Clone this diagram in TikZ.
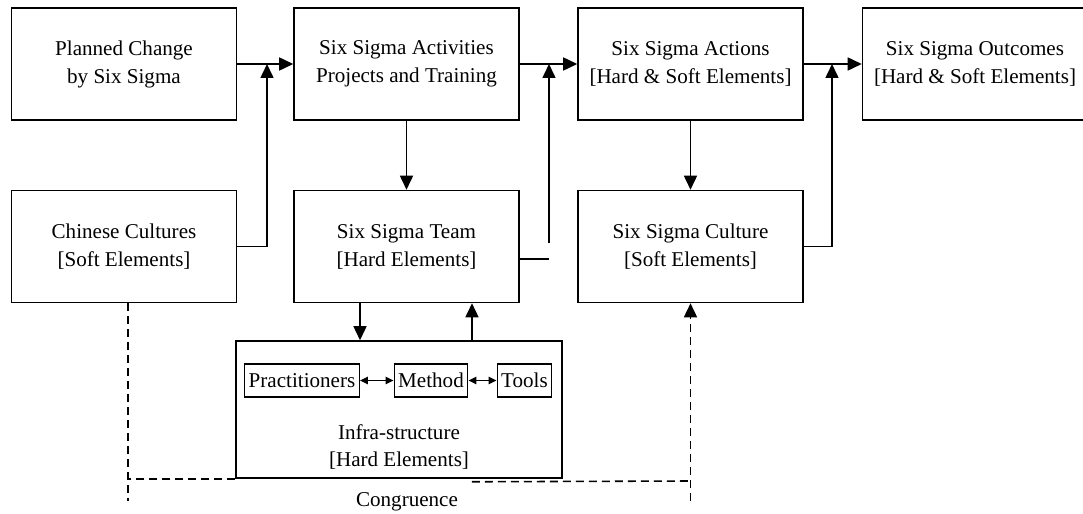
\documentclass[tikz,border=0pt]{standalone}
\usepackage{fontspec}
\setmainfont{Liberation Serif}
\usetikzlibrary{arrows.meta}
\begin{document}
\begin{tikzpicture}[x=0.02cm,y=-0.02cm,
    font=\fontsize{12}{15.9}\selectfont,
    box/.style={draw,line width=0.9pt,minimum width=4.5cm,minimum height=2.24cm,inner sep=0pt,align=center},
    smallbox/.style={draw,line width=0.8pt,inner xsep=0.08cm,inner ysep=0pt,minimum height=0.66cm},
    arr/.style={line width=0.9pt,-{Triangle[length=0.28cm,width=0.26cm]}},
    dbl/.style={line width=0.9pt,{Triangle[length=0.16cm,width=0.15cm]}-{Triangle[length=0.16cm,width=0.15cm]}},
    dsh/.style={line width=0.9pt,dash pattern=on 0.16cm off 0.1cm}]
\useasboundingbox (0,0) rectangle (1083,514);
% top row
\node[box] (plan) at (124,64) {Planned Change\\by Six Sigma};
\node[box] (act) at (406.5,64) {Six Sigma Activities\\Projects and Training};
\node[box] (actn) at (690.5,64) {Six Sigma Actions\\{[Hard \& Soft Elements]}};
\node[box] (outc) at (975,64) {Six Sigma Outcomes\\{[Hard \& Soft Elements]}};
% second row
\node[box] (chin) at (124,246.5) {Chinese Cultures\\{[Soft Elements]}};
\node[box] (team) at (406.5,246.5) {Six Sigma Team\\{[Hard Elements]}};
\node[box] (cult) at (690.5,246.5) {Six Sigma Culture\\{[Soft Elements]}};
% infra-structure
\node[draw,line width=0.9pt,minimum width=6.52cm,minimum height=2.74cm,inner sep=0pt] (infra) at (399,409.5) {};
\node[align=center] (infralbl) at (399,447) {Infra-structure\\{[Hard Elements]}};
\node[smallbox] (prac) at (302,380.5) {Practitioners};
\node[smallbox] (meth) at (431,380.5) {Method};
\node[smallbox] (tools) at (524.5,380.5) {Tools};
\draw[dbl] (prac) -- (meth);
\draw[dbl] (meth) -- (tools);
% junctions
\coordinate (j1) at (267,64);
\coordinate (j2) at (549,64);
\coordinate (j3) at (832,64);
\coordinate (t1) at (549,259);
\coordinate (t2) at (549,243);
\draw[arr] (plan) -- (act);
\draw[arr] (chin.east) -| (j1);
\draw[arr] (act) -- (actn);
\draw[line width=0.9pt] (team.east |- t1) -- (t1);
\draw[arr] (t2) -- (j2);
\draw[arr] (actn) -- (outc);
\draw[arr] (cult.east) -| (j3);
\draw[arr] (act) -- (team);
\draw[arr] (actn) -- (cult);
\draw[arr] ([xshift=-0.78cm]infra.north |- team.south) -- ([xshift=-0.78cm]infra.north);
\draw[arr] ([xshift=1.46cm]infra.north) -- ([xshift=1.46cm]infra.north |- team.south);
% congruence
\coordinate (c1) at (128,501);
\coordinate (c2) at (690.5,501);
\coordinate (c3) at (690.5,481);
\draw[dsh] (chin.south -| c1) -- (c1);
\draw[dsh] (infra.south west) -- (infra.south west -| c1);
\draw[dsh] ([xshift=1.46cm,yshift=-0.06cm]infra.south) -- (c3);
\draw[dsh,arr] (c2) -- (cult.south);
\node (cong) at (407,502) {Congruence};
\end{tikzpicture}
\end{document}
